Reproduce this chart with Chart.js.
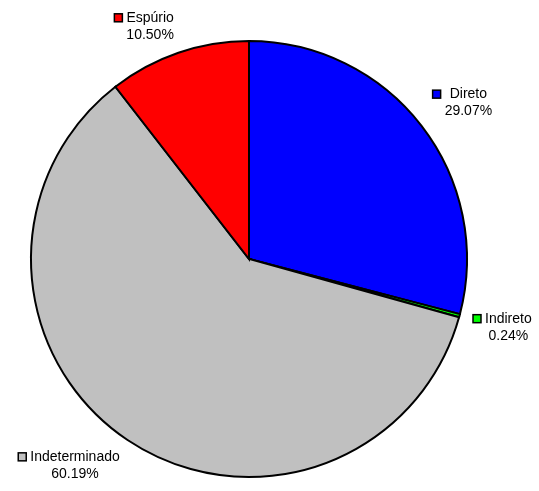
<!DOCTYPE html>
<html>
<head>
<meta charset="utf-8">
<script src="https://cdn.jsdelivr.net/npm/chart.js@4.4.1/dist/chart.umd.min.js"></script>
<style>
  html, body { margin: 0; padding: 0; background: #fff; }
  #wrap { width: 539px; height: 491px; position: relative; }
</style>
</head>
<body>
<div id="wrap"><canvas id="pie-chart"></canvas></div>
<script>
// ─── Data ──────────────────────────────────────────────────────────
const categories = ['Direto', 'Indireto', 'Indeterminado', 'Espúrio'];
const shares = [29.07, 0.24, 60.19, 10.50];
const sliceColors = ['#0000ff', '#00ff00', '#c0c0c0', '#ff0000'];

const FONT = '14px "Liberation Sans", Arial, sans-serif';

// Outside labels: colour key + name, percent underneath
const outsideLabels = {
  id: 'outsideLabels',
  afterDatasetsDraw(chart) {
    const ctx = chart.ctx;
    const meta = chart.getDatasetMeta(0);
    ctx.save();
    ctx.font = FONT;
    ctx.textBaseline = 'middle';
    ctx.textAlign = 'center';
    const clamp = v => Math.max(-1, Math.min(1, v));

    meta.data.forEach((arc, i) => {
      const { x, y, startAngle, endAngle, outerRadius } =
        arc.getProps(['x', 'y', 'startAngle', 'endAngle', 'outerRadius'], true);
      const mid = (startAngle + endAngle) / 2;
      const ux = Math.cos(mid), uy = Math.sin(mid);
      const px = x + ux * (outerRadius + 14);
      const py = y + uy * (outerRadius + 10);

      const name = categories[i];
      const pct = shares[i].toFixed(2) + '%';
      const textW = Math.max(ctx.measureText(name).width, ctx.measureText(pct).width);
      const key = 8, gap = 4;
      const W = key + gap + textW, H = 34;

      const cx = px + (W / 2) * clamp(ux * 4);
      const cy = py + (H / 2) * clamp(uy * 2);
      const left = cx - W / 2, top = cy - H / 2;
      const textCx = left + key + gap + textW / 2;

      // colour key
      ctx.fillStyle = sliceColors[i];
      ctx.fillRect(left, top + 4.5, key, key);
      ctx.strokeStyle = '#000';
      ctx.lineWidth = 1.5;
      ctx.strokeRect(left, top + 4.5, key, key);

      ctx.fillStyle = '#000';
      ctx.fillText(name, textCx, top + 8.5);
      ctx.fillText(pct, textCx, top + 25.5);
    });
    ctx.restore();
  },
};

new Chart(document.getElementById('pie-chart'), {
  type: 'pie',
  data: {
    labels: categories,
    datasets: [{
      data: shares,
      backgroundColor: sliceColors,
      borderColor: '#000',
      borderWidth: 2,
      borderJoinStyle: 'miter',
    }],
  },
  options: {
    responsive: true,
    maintainAspectRatio: false,
    animation: false,
    radius: 218,
    layout: { padding: { left: 10, right: 51, top: 37, bottom: 10 } },
    plugins: {
      legend: { display: false },
      tooltip: { enabled: false },
    },
  },
  plugins: [outsideLabels],
});
</script>
</body>
</html>
